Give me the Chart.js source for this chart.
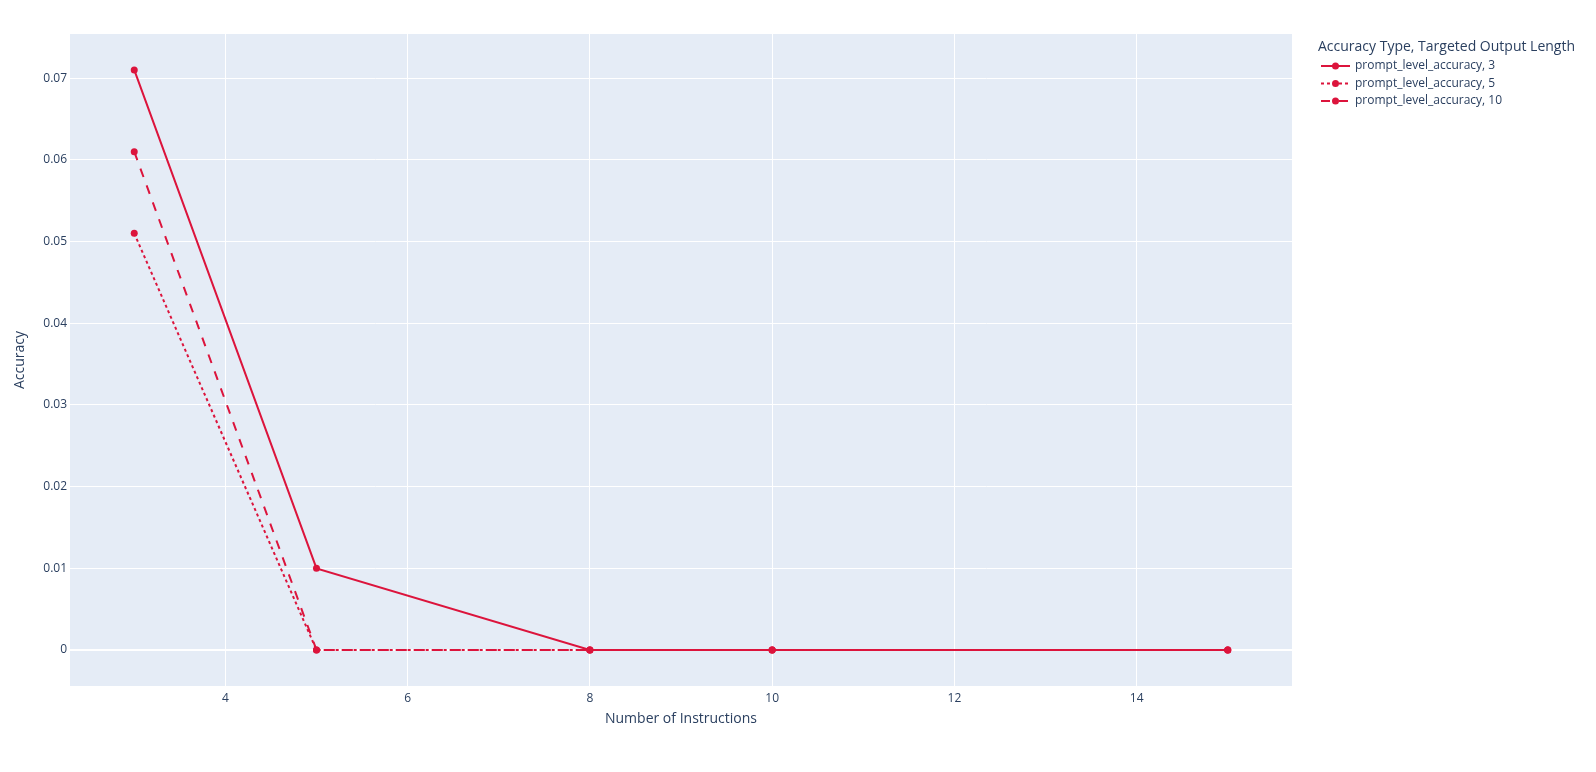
<!DOCTYPE html>
<html>
<head>
<meta charset="utf-8">
<script src="https://cdn.jsdelivr.net/npm/chart.js@4.4.1/dist/chart.umd.min.js"></script>
<style>
  html, body { margin: 0; padding: 0; background: #ffffff; }
  #wrap { position: relative; width: 1596px; height: 772px; }
  canvas { display: block; }
</style>
</head>
<body>
<div id="wrap"><canvas id="c" width="1596" height="772"></canvas></div>
<script>
// ---- data ----
const instructions = [3, 5, 8, 10, 15];
const seriesNames = ['prompt_level_accuracy, 3', 'prompt_level_accuracy, 5', 'prompt_level_accuracy, 10'];
const acc3  = [0.071, 0.01, 0, 0, 0];
const acc5  = [0.051, 0, 0, 0, 0];
const acc10 = [0.061, 0, 0, 0, 0];
const xTicks = [4, 6, 8, 10, 12, 14];
const yTicks = [0, 0.01, 0.02, 0.03, 0.04, 0.05, 0.06, 0.07];
const legendTitle = 'Accuracy Type, Targeted Output Length';

const RED = '#dc143c';
const TXT = '#2a3f5f';
const FONT = '"Open Sans", verdana, arial, sans-serif';
const dashes = [[], [3, 3], [9, 9]];
const seriesValues = [acc3, acc5, acc10];

const datasets = seriesValues.map((vals, i) => ({
  label: seriesNames[i],
  data: instructions.map((x, j) => ({ x: x, y: vals[j] })),
  borderColor: RED,
  backgroundColor: RED,
  borderWidth: 2,
  borderDash: dashes[i],
  pointRadius: 3.5,
  pointHoverRadius: 3.5,
  pointBorderWidth: 0,
  pointBackgroundColor: RED,
  fill: false,
  tension: 0,
  order: 3 - i
}));

const bgPlugin = {
  id: 'plotBg',
  beforeDraw(chart) {
    const { ctx, chartArea: a } = chart;
    ctx.save();
    ctx.fillStyle = '#e5ecf6';
    ctx.fillRect(a.left, a.top, a.right - a.left, a.bottom - a.top);
    ctx.restore();
  }
};

const legendPlugin = {
  id: 'plotlyLegend',
  afterDraw(chart) {
    const ctx = chart.ctx;
    ctx.save();
    ctx.fillStyle = TXT;
    ctx.textBaseline = 'middle';
    ctx.textAlign = 'left';
    ctx.font = '14px ' + FONT;
    ctx.fillText(legendTitle, 1318, 47);
    ctx.font = '12px ' + FONT;
    chart.data.datasets.forEach((ds, i) => {
      const y = 66 + i * 17.5;
      ctx.strokeStyle = RED;
      ctx.lineWidth = 2;
      ctx.setLineDash(ds.borderDash);
      ctx.beginPath();
      ctx.moveTo(1321, y);
      ctx.lineTo(1350, y);
      ctx.stroke();
      ctx.setLineDash([]);
      ctx.fillStyle = RED;
      ctx.beginPath();
      ctx.arc(1335.5, y, 3.5, 0, Math.PI * 2);
      ctx.fill();
      ctx.fillStyle = TXT;
      ctx.fillText(ds.label, 1355, y);
    });
    ctx.restore();
  }
};

new Chart(document.getElementById('c'), {
  type: 'line',
  data: { datasets },
  options: {
    responsive: false,
    animation: false,
    events: [],
    layout: { padding: { left: 0, top: 34, right: 304, bottom: 0 } },
    plugins: { legend: { display: false }, tooltip: { enabled: false } },
    scales: {
      x: {
        type: 'linear',
        min: 2.295,
        max: 15.705,
        afterFit(s) { s.height = 86; },
        afterBuildTicks(s) { s.ticks = xTicks.map(v => ({ value: v })); },
        ticks: { color: TXT, font: { family: FONT, size: 12 }, padding: 5,
                 callback: v => String(v) },
        grid: { color: '#ffffff', lineWidth: 1, drawTicks: false },
        border: { display: false },
        title: { display: true, text: 'Number of Instructions', color: TXT,
                 font: { family: FONT, size: 14 }, padding: { top: 0, bottom: 44.6 } }
      },
      y: {
        type: 'linear',
        min: -0.0044,
        max: 0.0754,
        afterFit(s) { s.width = 70; },
        afterBuildTicks(s) { s.ticks = yTicks.map(v => ({ value: v })); },
        ticks: { color: TXT, font: { family: FONT, size: 12 }, padding: 3,
                 callback: v => (v === 0 ? '0' : v.toFixed(2)) },
        grid: { color: '#ffffff', drawTicks: false,
                lineWidth: c => (c.tick && c.tick.value === 0 ? 2 : 1) },
        border: { display: false },
        title: { display: true, text: 'Accuracy', color: TXT,
                 font: { family: FONT, size: 14 }, padding: { top: 11.6, bottom: 0 } }
      }
    }
  },
  plugins: [bgPlugin, legendPlugin]
});
</script>
</body>
</html>
